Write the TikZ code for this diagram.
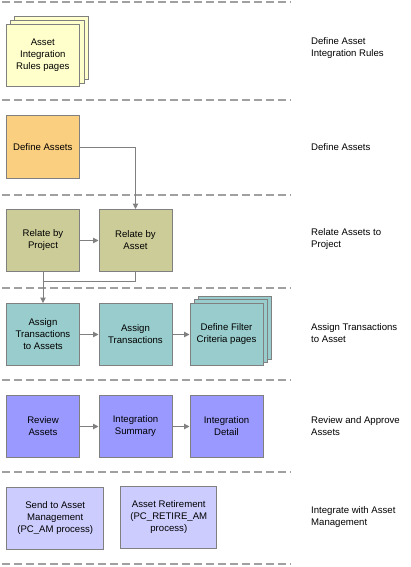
\documentclass[tikz,border=0pt]{standalone}
\usepackage{fontspec}
\setmainfont{Liberation Sans}
\usetikzlibrary{arrows.meta}
\definecolor{bordergray}{HTML}{808080}
\definecolor{dashgray}{HTML}{A0A0A0}
\definecolor{cyellow}{HTML}{FFFFCC}
\definecolor{corange}{HTML}{FBCF80}
\definecolor{colive}{HTML}{CCCC99}
\definecolor{cteal}{HTML}{99CCCC}
\definecolor{cblue}{HTML}{9999FF}
\definecolor{clight}{HTML}{CCCCFF}
\tikzset{
  box/.style={draw=bordergray, line width=1pt, minimum width=73pt, minimum height=62pt,
    inner sep=1pt, align=center, font=\fontsize{9.6}{12}\selectfont},
  sep/.style={draw=dashgray, line width=1.8pt, dash pattern=on 8pt off 4pt},
  conn/.style={draw=bordergray, line width=1pt},
  arr/.style={conn, -{Triangle[length=5.5pt,width=5.5pt]}},
  lbl/.style={anchor=west, align=left, inner sep=0pt, font=\fontsize{9.6}{11.5}\selectfont},
}
\begin{document}
\begin{tikzpicture}[x=1pt,y=-1pt]
\useasboundingbox (0,0) rectangle (411,567);
% separators
\foreach \yy in {2,100,195,288,380,472,564}
  \draw[sep] (2,\yy) -- (291,\yy);
% stacked pages 1
\draw[draw=bordergray, line width=1pt, fill=cyellow] (14,17) rectangle (88,80);
\draw[draw=bordergray, line width=1pt, fill=cyellow] (10,20.5) rectangle (84,83.5);
\node[box, fill=cyellow] (air) at (42.8,55.5) {Asset\\Integration\\Rules pages};
\node[box, fill=corange] (da) at (42.8,147) {Define Assets};
\node[box, fill=colive] (rbp) at (43,240.5) {Relate by\\Project};
\node[box, fill=colive] (rba) at (135.5,240.5) {Relate by\\Asset};
\node[box, fill=cteal] (ata) at (43,334.5) {Assign\\Transactions\\to Assets};
\node[box, fill=cteal] (at) at (135.5,334.5) {Assign\\Transactions};
\draw[draw=bordergray, line width=1pt, fill=cteal] (198,296) rectangle (271.5,359);
\draw[draw=bordergray, line width=1pt, fill=cteal] (194,299.5) rectangle (267.5,362.5);
\node[box, fill=cteal] (dfc) at (226.5,334.5) {Define Filter\\Criteria pages};
\node[box, fill=cblue] (ra) at (43,426.5) {Review\\Assets};
\node[box, fill=cblue] (is) at (135.5,426.5) {Integration\\Summary};
\node[box, fill=cblue] (id) at (226.5,426.5) {Integration\\Detail};
\node[box, fill=clight, minimum width=97pt] (sam) at (55.2,518.5) {Send to Asset\\Management\\(PC\_AM process)};
\node[box, fill=clight, minimum width=96pt] (ar) at (168.8,517.5) {Asset Retirement\\(PC\_RETIRE\_AM\\process)};
% connectors
\draw[arr] (da.east) -| (rba.north);
\draw[arr] (rbp.east) -- (rba.west);
\coordinate (j) at (rbp.south |- 0,281.7);
\draw[conn] (rba.south) |- (j);
\draw[arr] (rbp.south) -- (ata.north);
\draw[arr] (ata.east) -- (at.west);
\draw[arr] (at.east) -- (dfc.west);
\draw[arr] (ra.east) -- (is.west);
\draw[arr] (is.east) -- (id.west);
% labels
\node[lbl] (l1) at (311,48) {Define Asset\\Integration Rules};
\node[lbl] (l2) at (311,147) {Define Assets};
\node[lbl] (l3) at (311,239) {Relate Assets to\\Project};
\node[lbl] (l4) at (311,333) {Assign Transactions\\to Asset};
\node[lbl] (l5) at (311,426) {Review and Approve\\Assets};
\node[lbl] (l6) at (311,517) {Integrate with Asset\\Management};
\end{tikzpicture}
\end{document}
